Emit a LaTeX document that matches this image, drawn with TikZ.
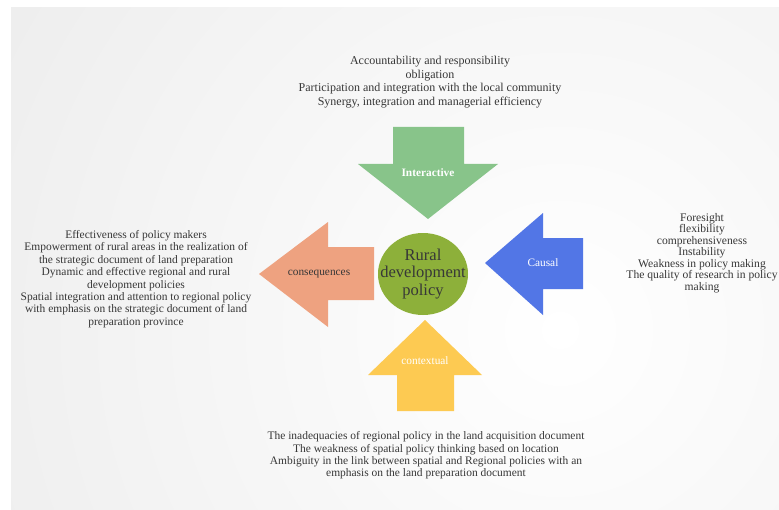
\documentclass[tikz,border=0pt]{standalone}
\usepackage{fontspec}
\setmainfont{Liberation Serif}
\usetikzlibrary{shapes.geometric}
\definecolor{arrgreen}{RGB}{136,196,138}
\definecolor{arrorange}{RGB}{238,162,128}
\definecolor{arrblue}{RGB}{82,118,230}
\definecolor{arryellow}{RGB}{253,202,82}
\definecolor{coreolive}{RGB}{141,176,58}
\definecolor{txtgray}{RGB}{55,55,55}
\begin{document}
\begin{tikzpicture}[x=0.75pt,y=-0.75pt,
  info/.style={align=center,text=txtgray,font=\fontsize{8.6}{9.3}\selectfont},
  tag/.style={font=\fontsize{8.5}{10}\selectfont}]
\useasboundingbox (0,0) rectangle (779,510);
\fill [white] (0,0) rectangle (779,510);
\begin{scope}
\clip (11,8) rectangle (779,510);
\shade [inner color=white,outer color=gray!18] (560,330) circle (850);
\end{scope}

% four arrows
\fill [arrgreen] (393,127) -- (464,127) -- (464,164) -- (498,164) -- (428,219) -- (358,164) -- (393,164) -- cycle;
\fill [arrorange] (374,247) -- (328,247) -- (328,222) -- (259,274) -- (328,327) -- (328,300) -- (374,300) -- cycle;
\fill [arrblue] (583,238) -- (543,238) -- (543,213) -- (485,263) -- (543,315) -- (543,289) -- (583,289) -- cycle;
\fill [arryellow] (397,411) -- (397,375) -- (368,375) -- (425,320) -- (482,375) -- (454,375) -- (454,411) -- cycle;

\node [tag,text=white] (interactive) at (428,173) {\bfseries Interactive};
\node [tag,text=txtgray] (consequences) at (319,274) {consequences};
\node [tag,text=white] (causal) at (543,263) {Causal};
\node [tag,text=white] (contextual) at (425,361) {contextual};

\node [ellipse,fill=coreolive,inner sep=0,minimum width=67.5pt,minimum height=61.5pt] (core) at (423,274) {};
\node [align=center,text=txtgray,font=\fontsize{12.4}{12.8}\selectfont] (corelabel) at (core.center)
  {Rural\\development\\policy};

% factor lists
\node [info,font=\fontsize{9}{10.2}\selectfont] (top) at (430,82) {Accountability and responsibility\\obligation\\Participation and integration with the local community\\Synergy, integration and managerial efficiency};
\node [info] (left) at (136,279) {Effectiveness of policy makers\\Empowerment of rural areas in the realization of\\the strategic document of land preparation\\Dynamic and effective regional and rural\\development policies\\Spatial integration and attention to regional policy\\with emphasis on the strategic document of land\\preparation province};
\node [info,font=\fontsize{8.7}{8.6}\selectfont] (right) at (702,253) {Foresight\\flexibility\\comprehensiveness\\Instability\\Weakness in policy making\\The quality of research in policy\\making};
\node [info] (bottom) at (426,455.5) {The inadequacies of regional policy in the land acquisition document\\The weakness of spatial policy thinking based on location\\Ambiguity in the link between spatial and Regional policies with an\\emphasis on the land preparation document};

\end{tikzpicture}
\end{document}
